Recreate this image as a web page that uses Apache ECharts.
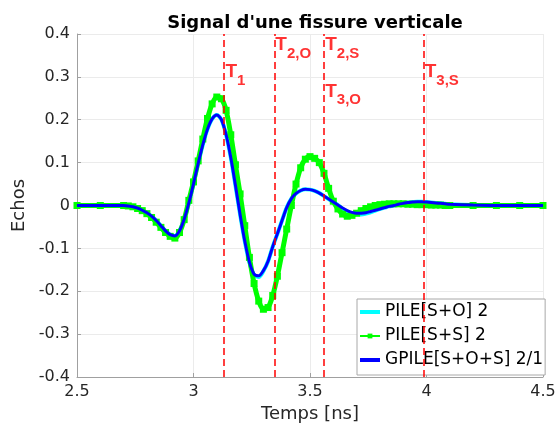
<!DOCTYPE html>
<html>
<head>
<meta charset="utf-8">
<script src="https://cdn.jsdelivr.net/npm/echarts@6/dist/echarts.min.js"></script>
<style>
  html, body { margin: 0; padding: 0; background: #fff; }
  #chart { width: 560px; height: 435px; }
</style>
</head>
<body>
<div id="chart"></div>
<script>
// temps [ns]
var times = [2.5, 2.6, 2.7, 2.72, 2.74, 2.76, 2.78, 2.8, 2.82, 2.84,
  2.86, 2.88, 2.9, 2.92, 2.94, 2.96, 2.98, 3.0, 3.02, 3.04,
  3.06, 3.08, 3.1, 3.12, 3.14, 3.16, 3.18, 3.2, 3.22, 3.24,
  3.26, 3.28, 3.3, 3.32, 3.34, 3.36, 3.38, 3.4, 3.42, 3.44,
  3.46, 3.48, 3.5, 3.52, 3.54, 3.56, 3.58, 3.6, 3.62, 3.64,
  3.66, 3.68, 3.7, 3.72, 3.74, 3.76, 3.78, 3.8, 3.82, 3.84,
  3.86, 3.88, 3.9, 3.92, 3.94, 3.96, 3.98, 4.0, 4.02, 4.04,
  4.06, 4.08, 4.1, 4.2, 4.3, 4.4, 4.5];

// PILE[S+O] 2
var pileSO = [0, 0, 0, -0.001, -0.003, -0.006, -0.011, -0.017, -0.025, -0.035,
  -0.047, -0.059, -0.068, -0.071, -0.059, -0.032, 0.006, 0.051, 0.098, 0.142,
  0.178, 0.202, 0.211, 0.2, 0.165, 0.112, 0.047, -0.021, -0.083, -0.133,
  -0.162, -0.167, -0.153, -0.13, -0.096, -0.066, -0.035, -0.005, 0.016, 0.028,
  0.035, 0.038, 0.037, 0.034, 0.029, 0.022, 0.015, 0.008, 0.001, -0.008,
  -0.014, -0.019, -0.021, -0.021, -0.019, -0.016, -0.012, -0.008, -0.005, -0.002,
  0, 0.003, 0.005, 0.007, 0.008, 0.009, 0.009, 0.008, 0.007, 0.006,
  0.005, 0.004, 0.003, 0.001, 0, 0, 0];

// PILE[S+S] 2
var pileSS = [0, 0, 0, -0.001, -0.003, -0.007, -0.012, -0.019, -0.028, -0.039,
  -0.051, -0.063, -0.072, -0.076, -0.063, -0.033, 0.012, 0.055, 0.104, 0.155,
  0.203, 0.237, 0.253, 0.249, 0.222, 0.165, 0.095, 0.027, -0.047, -0.121,
  -0.182, -0.223, -0.242, -0.238, -0.21, -0.165, -0.11, -0.055, 0.0, 0.05,
  0.088, 0.108, 0.114, 0.11, 0.1, 0.075, 0.04, 0.01, -0.008, -0.02,
  -0.025, -0.023, -0.018, -0.012, -0.007, -0.003, 0.0, 0.002, 0.003, 0.004,
  0.004, 0.004, 0.004, 0.003, 0.003, 0.002, 0.002, 0.002, 0.001, 0.001,
  0.001, 0, 0, 0, 0, 0, 0];

// GPILE[S+O+S] 2/1
var gpile = [0, 0, 0, -0.001, -0.003, -0.006, -0.011, -0.017, -0.025, -0.035,
  -0.047, -0.059, -0.068, -0.071, -0.059, -0.032, 0.006, 0.051, 0.098, 0.142,
  0.178, 0.202, 0.211, 0.2, 0.165, 0.112, 0.047, -0.021, -0.083, -0.132,
  -0.16, -0.164, -0.152, -0.13, -0.096, -0.066, -0.035, -0.005, 0.016, 0.028,
  0.035, 0.038, 0.037, 0.034, 0.029, 0.022, 0.015, 0.008, 0.001, -0.006,
  -0.012, -0.016, -0.018, -0.018, -0.017, -0.014, -0.011, -0.008, -0.005, -0.002,
  0, 0.003, 0.005, 0.007, 0.008, 0.009, 0.009, 0.008, 0.007, 0.006,
  0.005, 0.004, 0.003, 0.001, 0, 0, 0];

// temps caracteristiques (traits rouges) et leurs etiquettes
var markTimes = [3.133, 3.347, 3.561, 3.988];
var markNames = ['1', '2,O', '2,S', '3,O', '3,S'];
var markLabelT = [3.133, 3.347, 3.561, 3.561, 3.988];
var markLabelY = [0.31, 0.372, 0.372, 0.264, 0.31];

var seriesNames = ['PILE[S+O] 2', 'PILE[S+S] 2', 'GPILE[S+O+S] 2/1'];

function pairs(xs, ys) {
  var out = [];
  for (var i = 0; i < xs.length; i++) out.push([xs[i], ys[i]]);
  return out;
}

var chart = echarts.init(document.getElementById('chart'));
var axisCol = '#262626';
var font = 'DejaVu Sans, sans-serif';
var tfont = 'Liberation Sans, Arial, sans-serif';

var option = {
  animation: false,
  title: {
    text: "Signal d'une fissure verticale",
    left: 310, top: 9, textAlign: 'center',
    textStyle: { fontFamily: font, fontSize: 18, fontWeight: 'bold', color: '#000' }
  },
  grid: { left: 77, right: 17, top: 34, bottom: 58 },
  legend: {
    orient: 'vertical', left: 357, top: 299,
    data: [
      { name: seriesNames[0], itemStyle: { opacity: 0 }, lineStyle: { width: 4 } },
      { name: seriesNames[1], lineStyle: { width: 2 } },
      { name: seriesNames[2], itemStyle: { opacity: 0 }, lineStyle: { width: 4 } }
    ],
    itemWidth: 20, itemHeight: 6, itemGap: 4,
    padding: [3, 2, 5, 1],
    backgroundColor: '#fff', borderColor: '#a8a8a8', borderWidth: 1,
    textStyle: { fontFamily: font, fontSize: 17, color: '#000', lineHeight: 20 }
  },
  xAxis: {
    type: 'value', min: 2.5, max: 4.5, interval: 0.5,
    name: 'Temps [ns]', nameLocation: 'middle', nameGap: 28,
    nameTextStyle: { fontFamily: font, fontSize: 18, color: axisCol },
    axisLine: { onZero: false, lineStyle: { color: '#a0a0a0' } },
    axisTick: { inside: true, length: 4, lineStyle: { color: '#a0a0a0' } },
    axisLabel: { fontFamily: font, fontSize: 16, color: axisCol, margin: 7 },
    splitLine: { lineStyle: { color: '#ebebeb' } }
  },
  yAxis: {
    type: 'value', min: -0.4, max: 0.4, interval: 0.1,
    name: 'Echos', nameLocation: 'middle', nameGap: 44,
    nameTextStyle: { fontFamily: font, fontSize: 18, color: axisCol },
    axisLine: { show: true, lineStyle: { color: '#a0a0a0' } },
    axisTick: { show: true, inside: true, length: 4, lineStyle: { color: '#a0a0a0' } },
    axisLabel: { fontFamily: font, fontSize: 16, color: axisCol, margin: 7 },
    splitLine: { lineStyle: { color: '#ebebeb' } }
  },
  series: [
    {
      name: seriesNames[0], type: 'line', smooth: 0.3, symbol: 'none',
      data: pairs(times, pileSO),
      lineStyle: { color: '#00ffff', width: 4 }, itemStyle: { color: '#00ffff' }, z: 2
    },
    {
      name: seriesNames[1], type: 'line', smooth: 0.3, symbol: 'rect', symbolSize: 7,
      data: pairs(times, pileSS),
      lineStyle: { color: '#00ff00', width: 5 }, itemStyle: { color: '#00ff00' }, z: 3
    },
    {
      name: seriesNames[2], type: 'line', smooth: 0.3, symbol: 'none',
      data: pairs(times, gpile),
      lineStyle: { color: '#0000ff', width: 3 }, itemStyle: { color: '#0000ff' }, z: 4
    },
    {
      name: 'temps', type: 'scatter', symbolSize: 0, z: 6,
      data: pairs(markLabelT, markLabelY),
      label: {
        show: true, position: 'right', distance: 1,
        formatter: function (p) { return '{t|T}{s|' + markNames[p.dataIndex] + '}'; },
        rich: {
          t: { fontFamily: tfont, fontSize: 19, fontWeight: 'bold', color: '#ff0000', lineHeight: 21, verticalAlign: 'top' },
          s: { fontFamily: tfont, fontSize: 15, fontWeight: 'bold', color: '#ff0000', lineHeight: 17, verticalAlign: 'top', padding: [11, 0, 0, 0] }
        }
      },
      markLine: {
        silent: true, symbol: 'none', label: { show: false },
        lineStyle: { color: '#ff0000', type: [7, 4], width: 1.5 },
        data: markTimes.map(function (t) { return { xAxis: t }; })
      }
    }
  ]
};

chart.setOption(option);
</script>
</body>
</html>
